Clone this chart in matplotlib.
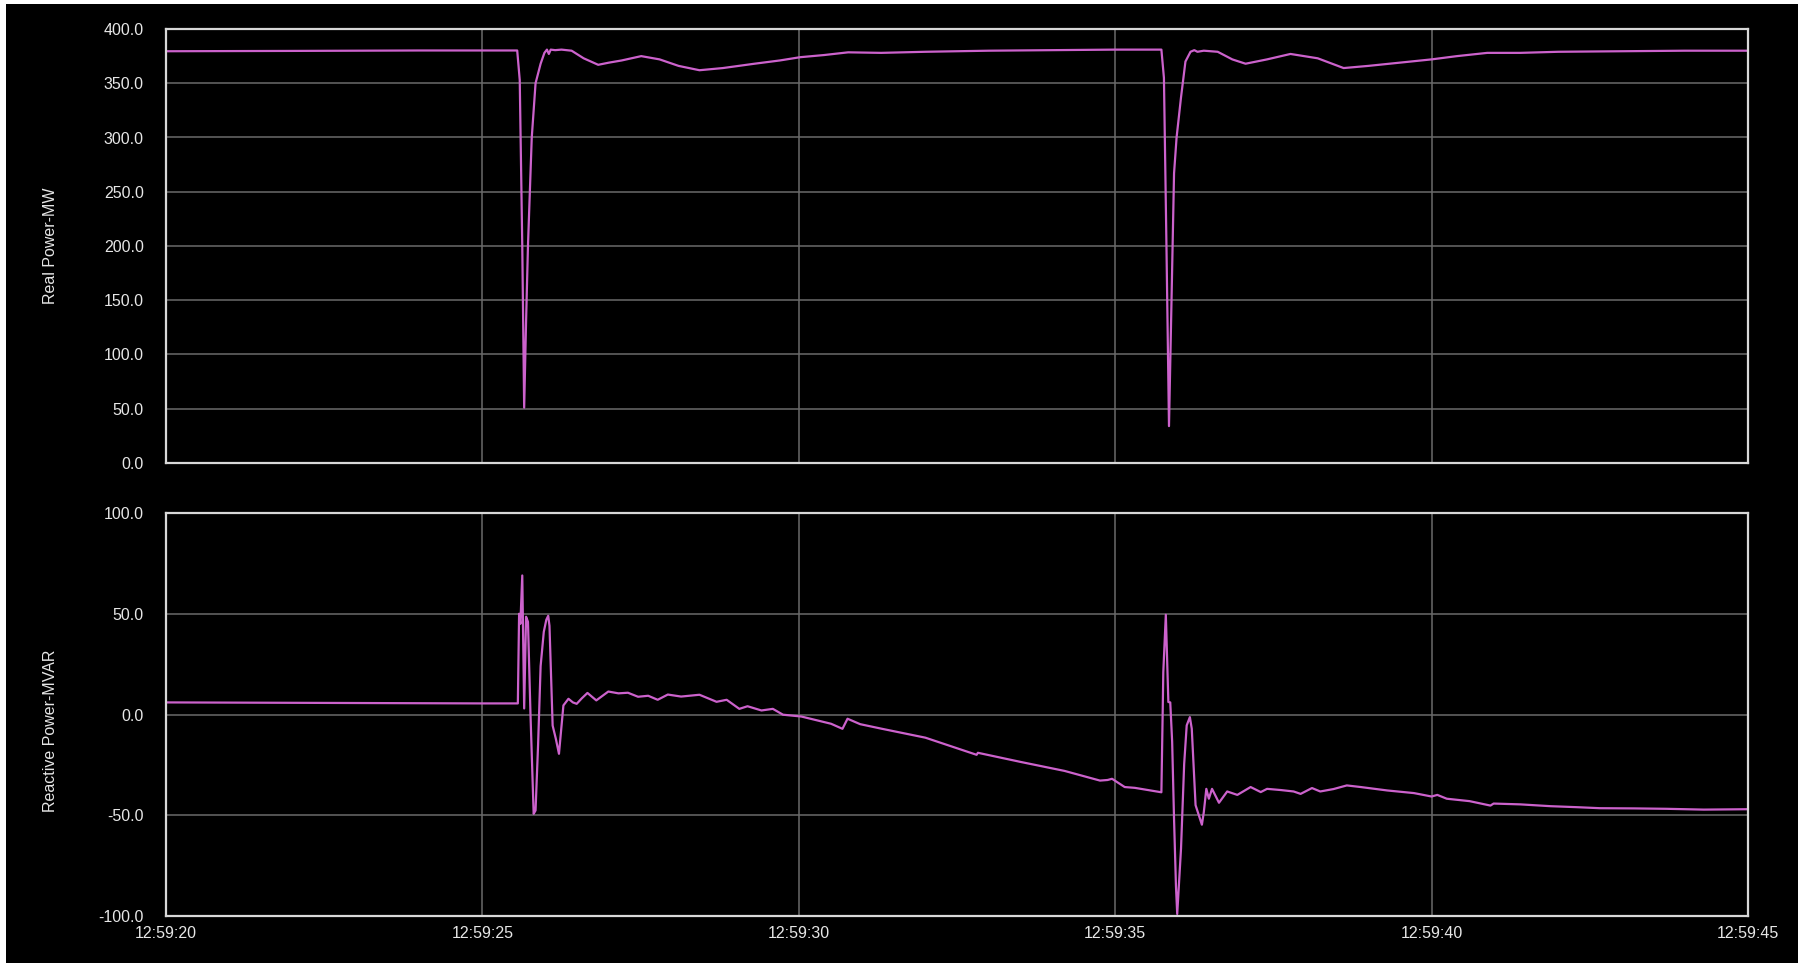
import matplotlib
matplotlib.use("Agg")
import matplotlib.pyplot as plt
from matplotlib.patches import Rectangle
from matplotlib.ticker import FuncFormatter, MultipleLocator

plt.rcParams['font.family'] = ['Liberation Sans Narrow', 'Liberation Sans', 'DejaVu Sans']

# seconds after 12:59:00
real_t = [20.0, 22.0, 24.0, 25.55, 25.59, 25.63, 25.66, 25.69, 25.72, 25.76, 25.78,
          25.84, 25.92, 25.98, 26.02, 26.05, 26.08, 26.15, 26.25, 26.41, 26.60, 26.83,
          27.0, 27.2, 27.51, 27.8, 28.1, 28.43, 28.8, 29.3, 29.7, 30.02, 30.4, 30.78,
          31.3, 32.0, 33.0, 34.0, 35.0, 35.73, 35.77, 35.81, 35.85, 35.89, 35.93,
          35.97, 36.04, 36.11, 36.19, 36.25, 36.30, 36.4, 36.62, 36.85, 37.06, 37.4,
          37.77, 38.2, 38.61, 39.0, 39.5, 40.0, 40.4, 40.88, 41.4, 42.0, 43.0, 44.0, 45.0]
real_mw = [379.5, 379.8, 380.2, 380.2, 353.0, 200.0, 51.0, 130.0, 200.0, 267.0, 300.0,
           350.0, 368.0, 378.0, 381.0, 377.0, 381.0, 380.5, 381.0, 380.0, 373.0, 367.0,
           369.0, 371.0, 375.0, 372.0, 366.0, 362.0, 364.0, 368.0, 371.0, 374.0, 376.0, 378.5,
           378.0, 379.0, 380.0, 380.5, 381.0, 381.0, 355.0, 200.0, 34.0, 150.0, 267.0,
           300.0, 337.0, 370.0, 379.0, 380.5, 379.0, 380.0, 379.0, 372.0, 368.0, 372.0,
           377.0, 373.0, 364.0, 366.0, 369.0, 372.0, 375.0, 378.0, 378.0, 379.0, 379.5, 380.0, 380.0]

react_t = [20.0, 21.0, 22.0, 23.0, 24.0, 25.0, 25.56, 25.58, 25.60, 25.63, 25.66, 25.69,
           25.72, 25.76, 25.81, 25.84, 25.88, 25.92, 25.97, 26.01, 26.04, 26.06, 26.11,
           26.16, 26.21, 26.28, 26.36, 26.43, 26.49, 26.57, 26.66, 26.80, 26.99, 27.15,
           27.30, 27.46, 27.62, 27.77, 27.93, 28.14, 28.43, 28.70, 28.86, 29.06, 29.19,
           29.41, 29.59, 29.75, 30.04, 30.51, 30.69, 30.77, 30.97, 31.3, 32.0, 32.81,
           32.83, 33.5, 34.2, 34.76, 34.88, 34.95, 35.15, 35.31, 35.73, 35.75, 35.76,
           35.80, 35.84, 35.87, 35.90, 35.93, 35.96, 35.98, 36.04, 36.09, 36.13, 36.18,
           36.21, 36.27, 36.37, 36.40, 36.44, 36.48, 36.53, 36.64, 36.77, 36.93, 37.14,
           37.30, 37.40, 37.62, 37.82, 37.93, 38.11, 38.24, 38.45, 38.66, 38.88, 39.30,
           39.72, 40.0, 40.09, 40.24, 40.6, 40.93, 40.98, 41.40, 41.88, 42.3, 42.66,
           43.2, 43.71, 44.3, 45.0]
react_mvar = [6.0, 5.9, 5.8, 5.7, 5.6, 5.5, 5.5, 50.0, 45.0, 69.0, 3.0, 48.5,
              46.0, 0.0, -49.3, -47.6, -15.0, 24.0, 41.0, 47.0, 49.0, 44.0, -5.5,
              -12.0, -19.5, 4.5, 7.8, 6.0, 5.3, 8.0, 10.7, 7.0, 11.4, 10.5,
              10.8, 8.8, 9.3, 7.3, 9.9, 8.9, 9.8, 6.3, 7.3, 2.8, 4.1,
              2.0, 2.8, -0.1, -1.0, -4.6, -7.1, -2.1, -4.8, -7.0, -11.5, -20.0,
              -19.0, -23.5, -28.0, -32.8, -32.5, -31.9, -36.0, -36.4, -38.6, 0.3, 21.0,
              49.5, 6.2, 6.0, -13.5, -52.0, -85.0, -99.0, -66.6, -24.5, -5.4, -1.3,
              -7.1, -45.0, -54.7, -48.5, -36.9, -41.8, -36.9, -43.8, -38.2, -39.9, -36.0,
              -38.5, -36.9, -37.5, -38.2, -39.4, -36.5, -38.2, -37.0, -35.2, -36.0, -37.7,
              -39.0, -40.7, -39.9, -41.8, -43.0, -45.2, -44.2, -44.6, -45.5, -46.0, -46.5,
              -46.6, -46.8, -47.2, -47.0]

x_ticks = [20, 25, 30, 35, 40, 45]

line_color = '#cc62cc'
grid_color = '#6a6a6a'
text_color = '#e6e6e6'

fig = plt.figure(figsize=(18.03, 9.63), dpi=100, facecolor='white')
fig.add_artist(Rectangle((6 / 1803, 0), 1792 / 1803, 959 / 963, transform=fig.transFigure,
                         facecolor='black', edgecolor='none', zorder=-10))

ax1 = fig.add_axes([166 / 1803, 500 / 963, 1582 / 1803, 434 / 963])
ax2 = fig.add_axes([166 / 1803, 47 / 963, 1582 / 1803, 403 / 963])


def time_fmt(v, pos):
    return "12:59:%02d" % int(round(v))


for ax in (ax1, ax2):
    ax.set_facecolor('black')
    ax.set_xlim(20, 45)
    ax.set_xticks(x_ticks)
    ax.grid(True, color=grid_color, linewidth=1.1)
    ax.set_axisbelow(True)
    for s in ax.spines.values():
        s.set_color('#d8d8d8')
        s.set_linewidth(1.6)
    ax.tick_params(length=0, colors=text_color, labelsize=11.5, pad=16)
    ax.yaxis.set_major_formatter(FuncFormatter(lambda v, p: "%.1f" % v))

ax1.plot(real_t, real_mw, color=line_color, linewidth=1.6)
ax1.set_ylim(0, 400)
ax1.yaxis.set_major_locator(MultipleLocator(50))
ax1.tick_params(axis='x', labelbottom=False)
ax1.set_ylabel("Real Power-MW", color=text_color, fontsize=11.5)
ax1.yaxis.set_label_coords(-0.068, 0.5)

ax2.plot(react_t, react_mvar, color=line_color, linewidth=1.6)
ax2.set_ylim(-100, 100)
ax2.yaxis.set_major_locator(MultipleLocator(50))
ax2.xaxis.set_major_formatter(FuncFormatter(time_fmt))
ax2.tick_params(axis='x', pad=7)
ax2.set_ylabel("Reactive Power-MVAR", color=text_color, fontsize=11.5)
ax2.yaxis.set_label_coords(-0.068, 0.46)

fig.savefig("out.png", dpi=100, facecolor=fig.get_facecolor())
